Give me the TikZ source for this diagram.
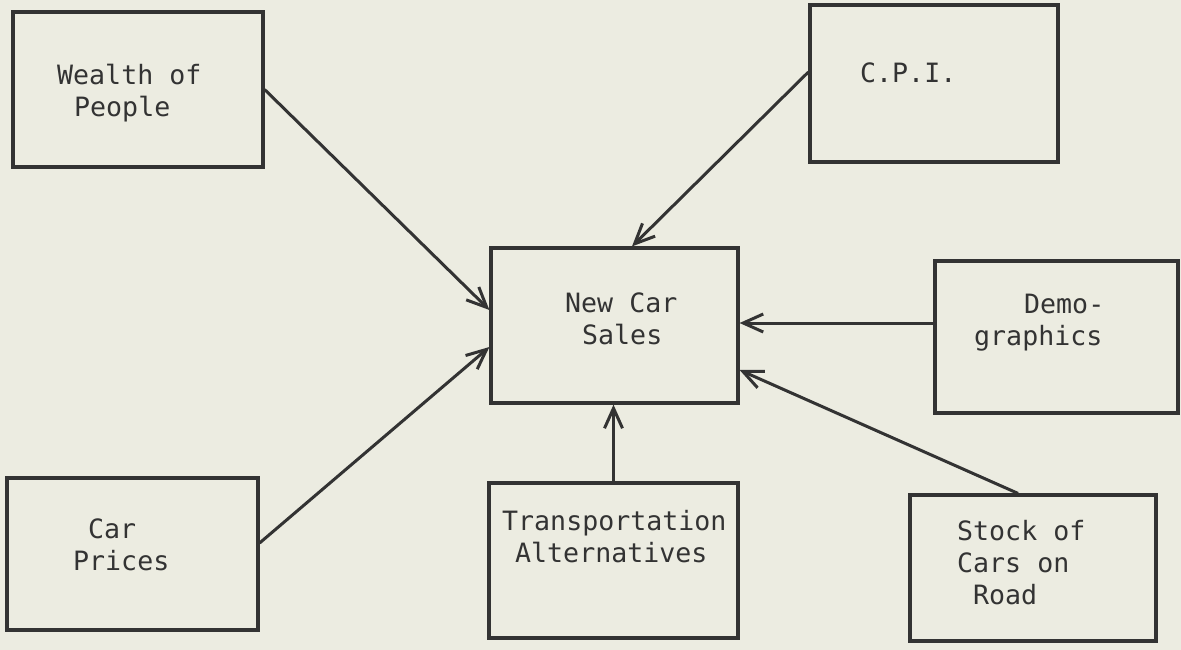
\documentclass[tikz,border=0pt]{standalone}
\usepackage{fontspec}
\usetikzlibrary{arrows.meta}
\newfontfamily\typewriter{DejaVu Sans Mono}
% stacked left-aligned lines whose baseline is the first line's baseline
\newcommand\boxlines[1]{\vtop{\baselineskip=32pt\lineskip=0pt\halign{##\hfil\cr#1\crcr}}}
\definecolor{paper}{HTML}{ECECE1}
\definecolor{ink}{HTML}{333333}
\tikzset{
  box/.style={draw=ink, line width=3.2pt, rectangle, inner sep=0pt},
  boxtext/.style={anchor=base west, inner sep=0pt, text=ink,
    font=\typewriter\fontsize{26.6}{32}\selectfont},
  link/.style={draw=ink, line width=3pt,
    -{Straight Barb[length=20pt, width=18pt, line width=3pt]}}
}
\begin{document}
\begin{tikzpicture}[x=1pt, y=-1pt]
  \fill[paper] (0,0) rectangle (1181,650);
  \useasboundingbox (0,0) rectangle (1181,650);

  % boxes
  \node[box, minimum width=250pt, minimum height=155pt] (wealth) at (138,89.5) {};
  \node[box, minimum width=248pt, minimum height=157pt] (cpi) at (934,83.5) {};
  \node[box, minimum width=247pt, minimum height=155pt] (ncs) at (614.5,325.5) {};
  \node[box, minimum width=243pt, minimum height=152pt] (demo) at (1056.5,337) {};
  \node[box, minimum width=251pt, minimum height=152pt] (prices) at (132.5,554) {};
  \node[box, minimum width=249pt, minimum height=155pt] (trans) at (613.5,560.5) {};
  \node[box, minimum width=246pt, minimum height=146pt] (stock) at (1033,568) {};

  % box captions
  \node[boxtext] (wealthtxt) at (57,85) {\boxlines{Wealth of\cr\hspace*{17pt}People}};
  \node[boxtext] (cpitxt) at (860,83) {\boxlines{C.P.I.}};
  \node[boxtext] (ncstxt) at (565,312) {\boxlines{New Car\cr\hspace*{17pt}Sales}};
  \node[boxtext] (demotxt) at (974,313) {\boxlines{\hspace*{50pt}Demo-\cr graphics}};
  \node[boxtext] (pricestxt) at (73,538) {\boxlines{\hspace*{15pt}Car\cr Prices}};
  \node[boxtext] (transtxt) at (502,530) {\boxlines{Transportation\cr\hspace*{13pt}Alternatives}};
  \node[boxtext] (stocktxt) at (957,540) {\boxlines{Stock of\cr Cars on\cr\hspace*{16pt}Road}};

  % influences on new car sales
  \draw[link] (wealth.east) -- ([yshift=15.5pt]ncs.west);
  \draw[link] ([yshift=11pt]prices.east) -- ([yshift=-21.5pt]ncs.west);
  \draw[link] ([yshift=11.5pt]cpi.west) -- ([xshift=17.5pt]ncs.north);
  \draw[link] ([yshift=14pt]demo.west) -- ([yshift=2.5pt]ncs.east);
  \draw[link] ([xshift=-15pt]stock.north) -- ([yshift=-44.5pt]ncs.east);
  \draw[link] (trans.north) -- (trans.north |- ncs.south);
\end{tikzpicture}
\end{document}
